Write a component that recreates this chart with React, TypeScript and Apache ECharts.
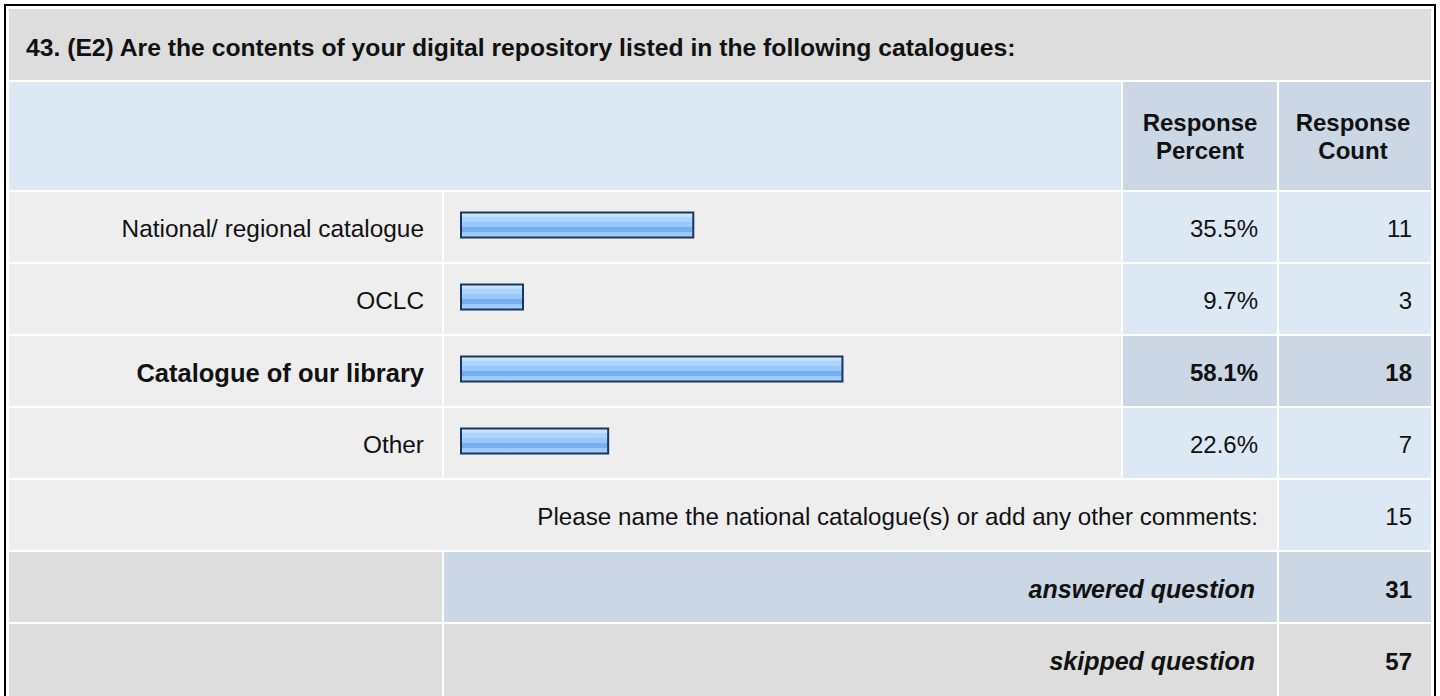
import React, { useEffect, useRef } from "react";
import * as echarts from "echarts";

const title = "43. (E2) Are the contents of your digital repository listed in the following catalogues:";
const headerPercent = ["Response", "Percent"];
const headerCount = ["Response", "Count"];
const categories = ["National/ regional catalogue", "OCLC", "Catalogue of our library", "Other"];
const percents = [35.5, 9.7, 58.1, 22.6];
const counts = [11, 3, 18, 7];
const highlightIndex = 2;
const commentText = "Please name the national catalogue(s) or add any other comments:";
const commentCount = 15;
const answeredLabel = "answered question";
const answeredCount = 31;
const skippedLabel = "skipped question";
const skippedCount = 57;

const FONT = "'Liberation Sans', Arial, Helvetica, sans-serif";
const TXT = "#111111";

export default function App() {
  const ref = useRef<HTMLDivElement>(null);
  useEffect(() => {
    if (!ref.current) return;
    const chart = echarts.init(ref.current, null, { renderer: "svg", width: 1440, height: 696 });

    // layout
    const colL = [9, 442], colB = [444, 1121], colP = [1123, 1277], colC = [1279, 1431];
    const rowTop0 = 192, rowStep = 72, rowH = 70;
    const C_GRAY = "#dddddd", C_LIGHT = "#eeeeee", C_BLUE = "#dde8f5", C_BLUE2 = "#ccd7e5";

    const g: any[] = [];
    const rect = (x0: number, x1: number, y0: number, y1: number, fill: string) =>
      g.push({ type: "rect", z: 0, silent: true, shape: { x: x0, y: y0, width: x1 - x0, height: y1 - y0 }, style: { fill } });
    const text = (s: string, x: number, y: number, align: string, opts: any = {}) =>
      g.push({
        type: "text", z: 10, silent: true, x, y,
        style: {
          text: s, fill: TXT, fontFamily: FONT, fontSize: opts.size || 24,
          fontWeight: opts.bold ? "bold" : "normal", fontStyle: opts.italic ? "italic" : "normal",
          align, verticalAlign: "middle",
        },
      });

    // outer border
    g.push({ type: "rect", z: 0, silent: true, shape: { x: 5, y: 5, width: 1430, height: 720 }, style: { fill: "#ffffff", stroke: "#000000", lineWidth: 2 } });

    // title
    rect(colL[0], colC[1], 9, 80, C_GRAY);
    text(title, 26, 47.5, "left", { bold: true, size: 24.7 });

    // header
    rect(colL[0], colB[1], 82, 190, C_BLUE);
    rect(colP[0], colP[1], 82, 190, C_BLUE2);
    rect(colC[0], colC[1], 82, 190, C_BLUE2);
    const pc = (colP[0] + colP[1]) / 2, cc = (colC[0] + colC[1]) / 2 - 2;
    text(headerPercent[0], pc, 122, "center", { bold: true });
    text(headerPercent[1], pc, 150, "center", { bold: true });
    text(headerCount[0], cc, 122, "center", { bold: true });
    text(headerCount[1], cc, 150, "center", { bold: true });

    // data rows
    categories.forEach((c, i) => {
      const y0 = rowTop0 + i * rowStep, y1 = y0 + rowH, yc = (y0 + y1) / 2 + 1.5;
      const hi = i === highlightIndex;
      rect(colL[0], colL[1], y0, y1, C_LIGHT);
      rect(colB[0], colB[1], y0, y1, C_LIGHT);
      rect(colP[0], colP[1], y0, y1, hi ? C_BLUE2 : C_BLUE);
      rect(colC[0], colC[1], y0, y1, hi ? C_BLUE2 : C_BLUE);
      text(c, 424, yc, "right", { bold: hi, size: hi ? 25.5 : 24.4 });
      text(percents[i].toFixed(1) + "%", 1258, yc, "right", { bold: hi });
      text(String(counts[i]), 1412, yc, "right", { bold: hi });
    });

    // comment row
    rect(colL[0], colP[1], 480, 550, C_LIGHT);
    rect(colC[0], colC[1], 480, 550, C_BLUE);
    text(commentText, 1258, 516.5, "right", { size: 24.2 });
    text(String(commentCount), 1412, 516.5, "right");

    // answered
    rect(colL[0], colL[1], 552, 622, C_GRAY);
    rect(colB[0], colP[1], 552, 622, C_BLUE2);
    rect(colC[0], colC[1], 552, 622, C_BLUE2);
    text(answeredLabel, 1255, 589, "right", { bold: true, italic: true, size: 25 });
    text(String(answeredCount), 1412, 589, "right", { bold: true });

    // skipped
    rect(colL[0], colL[1], 624, 720, C_GRAY);
    rect(colB[0], colP[1], 624, 720, C_GRAY);
    rect(colC[0], colC[1], 624, 720, C_GRAY);
    text(skippedLabel, 1255, 661, "right", { bold: true, italic: true, size: 25 });
    text(String(skippedCount), 1412, 661, "right", { bold: true });

    const barFill = new echarts.graphic.LinearGradient(0, 0, 0, 1, [
      { offset: 0, color: "#d2eaff" },
      { offset: 0.17, color: "#c2e0ff" },
      { offset: 0.18, color: "#aad4ff" },
      { offset: 0.37, color: "#aad4ff" },
      { offset: 0.38, color: "#99c9fb" },
      { offset: 0.58, color: "#99c9fb" },
      { offset: 0.59, color: "#78adef" },
      { offset: 0.79, color: "#78adef" },
      { offset: 0.8, color: "#99c9fb" },
      { offset: 1, color: "#a6d0fd" },
    ]);

    chart.setOption({
      animation: false,
      graphic: { elements: g },
      grid: { left: 460, right: 320, top: 189, height: 288, containLabel: false },
      xAxis: { type: "value", min: 0, max: 100, show: false },
      yAxis: {
        type: "category", data: categories, inverse: true, show: false,
      },
      series: [
        {
          type: "bar", data: percents, barWidth: 27, z: 5,
          itemStyle: { color: barFill, borderColor: "#1b3560", borderWidth: 2 },
          silent: true,
        },
      ],
    });
    return () => chart.dispose();
  }, []);
  return <div ref={ref} style={{ position: "absolute", left: 0, top: 0, width: 1440, height: 696 }} />;
}
